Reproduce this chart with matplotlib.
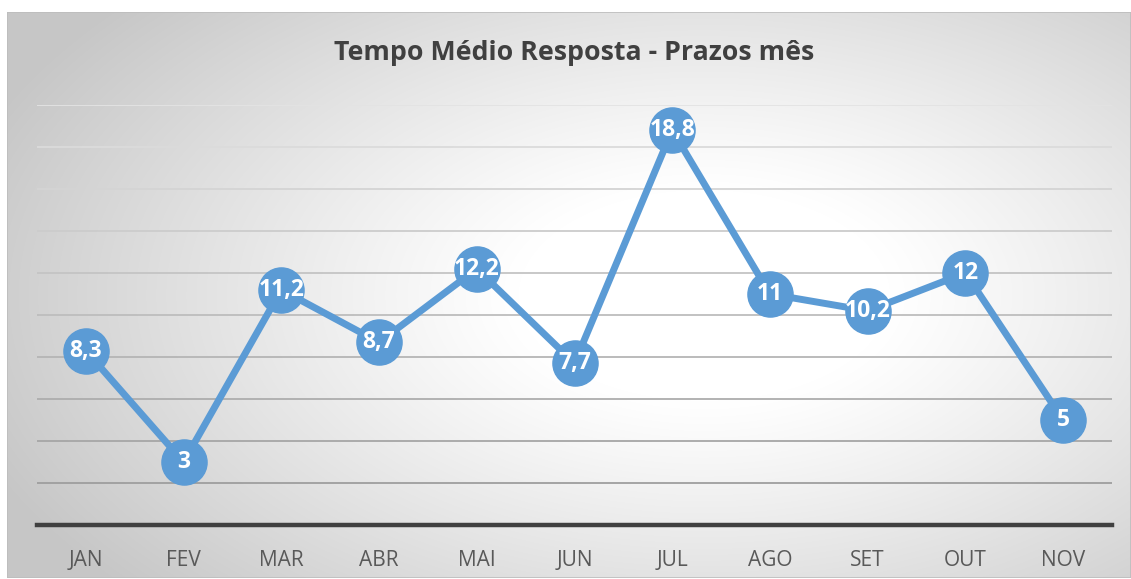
import numpy as np
import matplotlib
matplotlib.use("Agg")
import matplotlib.pyplot as plt
from matplotlib.patches import Rectangle

months = ["JAN", "FEV", "MAR", "ABR", "MAI", "JUN", "JUL", "AGO", "SET", "OUT", "NOV"]
values = [8.3, 3, 11.2, 8.7, 12.2, 7.7, 18.8, 11, 10.2, 12, 5]
title = "Tempo Médio Resposta - Prazos mês"

W, H = 1131, 579
fig = plt.figure(figsize=(W / 100, H / 100), dpi=100)
fig.patch.set_facecolor("white")

# background panel with radial gradient
fx0, fy0, fx1, fy1 = 7, 12, 1131, 578
bg = fig.add_axes([fx0 / W, 1 - fy1 / H, (fx1 - fx0) / W, (fy1 - fy0) / H])
bw, bh = fx1 - fx0, fy1 - fy0
yy, xx = np.mgrid[0:bh, 0:bw]
cx, cy = bw * 0.62, bh * 0.5
d = np.sqrt(((xx - cx) / (bw * 0.55)) ** 2 + ((yy - cy) / (bh * 0.62)) ** 2)
v = 1 - 0.22 * np.clip((d - 0.3) / 0.95, 0, 1) ** 1.1
img = np.dstack([v, v, v])
bg.imshow(img, aspect="auto", extent=(0, 1, 0, 1), interpolation="bilinear")
bg.set_xlim(0, 1)
bg.set_ylim(0, 1)
bg.axis("off")
bg.add_patch(Rectangle((0, 0), 1, 1, fill=False, edgecolor="#bdbdbd", lw=1.2))

# main axes
px0, px1 = 37, 1112
py_top, py_bot = 105, 525
ax = fig.add_axes([px0 / W, 1 - py_bot / H, (px1 - px0) / W, (py_bot - py_top) / H])
ax.patch.set_alpha(0)
x = np.arange(len(months))
ax.set_xlim(-0.5, len(months) - 0.5)
ax.set_ylim(0, 20)

grid_vals = np.arange(2, 21, 2)
for g in grid_vals:
    t = (g - 2) / 18
    c = 0.62 + 0.27 * t
    ax.axhline(g, color=(c, c, c), lw=1.3, zorder=1)
ax.axhline(0, color="#404040", lw=3.2, zorder=2, clip_on=False)

ax.plot(x, values, color="#5B9BD5", lw=5, marker="o", markersize=32.5,
        markerfacecolor="#5B9BD5", markeredgecolor="#5B9BD5", zorder=3,
        solid_capstyle="round", clip_on=False)
for xi, val in zip(x, values):
    lab = f"{val:g}".replace(".", ",")
    ax.text(xi, val, lab, ha="center", va="center", color="white",
            fontsize=16.5, fontweight="bold", family="Open Sans", zorder=4)

ax.set_xticks(x)
ax.set_xticklabels(months, fontsize=15, color="#595959", family="Open Sans")
ax.tick_params(axis="x", length=0, pad=18)
ax.set_yticks([])
for s in ax.spines.values():
    s.set_visible(False)

fig.text(574.5 / W, 1 - 53 / H, title, ha="center", va="center",
         fontsize=19.3, fontweight="bold", color="#404040", family="Open Sans")

fig.savefig("out.png", dpi=100)
